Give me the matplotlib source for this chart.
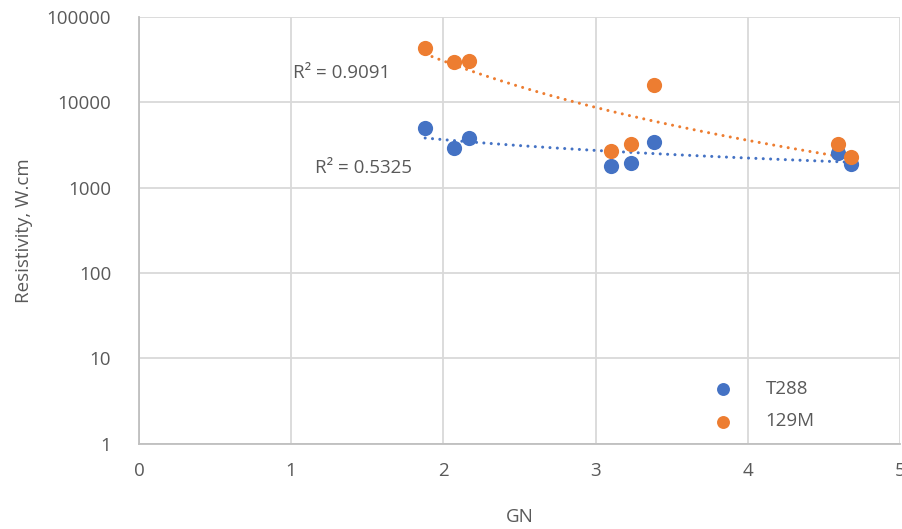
import numpy as np
import matplotlib
matplotlib.use("Agg")
import matplotlib.pyplot as plt

plt.rcParams['font.family'] = ['Open Sans', 'DejaVu Sans']

gn_t288 = [1.88, 2.07, 2.17, 3.10, 3.23, 3.38, 4.59, 4.68]
res_t288 = [5000, 2900, 3830, 1800, 1950, 3440, 2580, 1880]
gn_129m = [1.88, 2.07, 2.17, 3.10, 3.23, 3.38, 4.59, 4.68]
res_129m = [43400, 29500, 30300, 2700, 3260, 16000, 3230, 2310]
r2_labels = ["R² = 0.5325", "R² = 0.9091"]
series_names = ["T288", "129M"]
colors = ["#4472C4", "#ED7D31"]
x_ticks = [0, 1, 2, 3, 4, 5]
y_ticks = [1, 10, 100, 1000, 10000, 100000]

fig = plt.figure(figsize=(9.02, 5.29), dpi=100)
ax = fig.add_axes([0.154, 0.161, 0.844, 0.807])
gray = "#595959"
fs = 13.5

for xs, ys, c, name in [(gn_t288, res_t288, colors[0], series_names[0]),
                        (gn_129m, res_129m, colors[1], series_names[1])]:
    ax.scatter(xs, ys, s=120, color=c, zorder=3, label=name, linewidths=0)
    # power trendline
    lx, ly = np.log(xs), np.log(ys)
    b, a = np.polyfit(lx, ly, 1)
    xf = np.linspace(min(xs), max(xs), 200)
    yf = np.exp(a) * xf ** b
    ax.plot(xf, yf, color=c, lw=2.2, linestyle=(0, (0.01, 2.4)),
            dash_capstyle='round', zorder=2)

ax.text(1.155, 1700, r2_labels[0], color=gray, fontsize=fs, va='center', ha='left')
ax.text(1.01, 22100, r2_labels[1], color=gray, fontsize=fs, va='center', ha='left')

ax.set_yscale('log')
ax.set_xlim(0, 5)
ax.set_ylim(1, 100000)
ax.set_xticks(x_ticks)
ax.set_xticklabels([str(t) for t in x_ticks])
ax.set_yticks(y_ticks)
ax.set_yticklabels([str(t) for t in y_ticks])
ax.minorticks_off()
ax.tick_params(axis='y', length=0, labelsize=fs, colors=gray, pad=20)
ax.tick_params(axis='x', length=0, labelsize=fs, colors=gray, pad=13)
ax.grid(True, color="#D9D9D9", lw=1.3)
ax.set_axisbelow(True)
for s in ['top', 'right']:
    ax.spines[s].set_visible(False)
for s in ['left', 'bottom']:
    ax.spines[s].set_color("#BFBFBF")
    ax.spines[s].set_linewidth(1.3)

ax.set_xlabel("GN", fontsize=fs, color=gray, labelpad=20)
ax.set_ylabel("Resistivity, W.cm", fontsize=fs, color=gray, labelpad=10)

leg = ax.legend(loc='center left', bbox_to_anchor=(0.72, 0.09), frameon=False,
                fontsize=fs, handletextpad=1.3, labelspacing=0.75, markerscale=0.85)
for t in leg.get_texts():
    t.set_color(gray)

fig.savefig("out.png", dpi=100)
